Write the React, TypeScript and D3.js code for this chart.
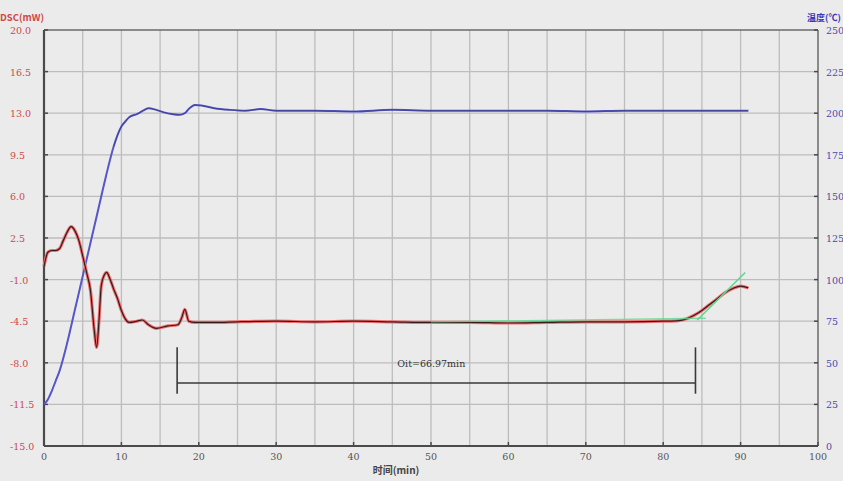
import React, { useEffect, useRef } from 'react';
import * as d3 from 'd3';

// left axis (DSC, mW) and right axis (temperature) ticks
const dscTicks = [-15.0, -11.5, -8.0, -4.5, -1.0, 2.5, 6.0, 9.5, 13.0, 16.5, 20.0];
const tempTicks = [0, 25, 50, 75, 100, 125, 150, 175, 200, 225, 250];
const timeTicks = [0, 10, 20, 30, 40, 50, 60, 70, 80, 90, 100];

// temperature curve (min, degC)
const tempTime = [0, 0.5, 1, 1.5, 2, 3, 4, 5, 6, 7, 8, 9, 10, 10.5, 11, 12, 13, 13.5, 14.5, 15.5, 16.5, 17.5, 18.2, 18.8, 19.5, 20.5, 22, 24, 26, 28, 30, 35, 40, 45, 50, 55, 60, 65, 70, 75, 80, 85, 91];
const tempValue = [25, 28, 33, 39, 45, 62, 82, 102, 122, 142, 162, 180, 192, 195, 197.5, 199.5, 202, 203, 202, 200.5, 199.5, 199, 200, 203, 205, 204.5, 203, 202, 201.5, 202.5, 201.5, 201.5, 201, 202, 201.5, 201.5, 201.5, 201.5, 201, 201.5, 201.5, 201.5, 201.5];

// DSC curve (min, mW)
const dscTime = [0, 0.5, 1, 1.5, 2, 2.5, 3, 3.5, 4, 4.5, 5, 5.5, 6, 6.5, 6.8, 7.1, 7.4, 7.8, 8.1, 8.5, 9, 9.5, 10, 10.5, 11, 12, 12.7, 13.5, 14.5, 16, 17.3, 17.8, 18.2, 18.7, 19.5, 22, 25, 30, 35, 40, 45, 50, 55, 60, 65, 70, 75, 80, 82, 83, 84, 85, 86, 87, 88, 89, 90, 91];
const dscValue = [0.1, 1.3, 1.45, 1.45, 1.6, 2.3, 3.0, 3.45, 3.1, 2.3, 1.0, -0.4, -1.9, -5.3, -6.7, -4.5, -1.5, -0.6, -0.4, -0.9, -1.8, -2.6, -3.6, -4.3, -4.6, -4.5, -4.4, -4.8, -5.1, -4.9, -4.8, -4.2, -3.5, -4.5, -4.6, -4.6, -4.55, -4.5, -4.55, -4.5, -4.55, -4.6, -4.6, -4.65, -4.6, -4.55, -4.55, -4.5, -4.45, -4.3, -4.0, -3.6, -3.1, -2.6, -2.1, -1.75, -1.55, -1.7];

// tangent lines (min, mW)
const baseTime = [50, 85.5];
const baseValue = [-4.55, -4.25];
const slopeTime = [84.4, 90.6];
const slopeValue = [-4.4, -0.4];

// oxidation induction time marker
const oitStart = 17.2;
const oitEnd = 84.17;
const oitLevel = -9.7;
const oitTop = -6.7;
const oitBottom = -10.6;
const oitLabel = 'Oit=66.97min';

export default function App() {
  const ref = useRef<SVGSVGElement>(null);

  useEffect(() => {
    const W = 843, H = 481;
    const L = 44, R = 818, T = 30, B = 446;
    const svg = d3.select(ref.current);
    svg.selectAll('*').remove();

    svg.append('rect').attr('width', W).attr('height', H).attr('fill', '#ebebeb');

    const x = d3.scaleLinear().domain([0, 100]).range([L, R]);
    const y = d3.scaleLinear().domain([-15, 20]).range([B, T]);
    const y2 = d3.scaleLinear().domain([0, 250]).range([B, T]);

    // grid
    const g = svg.append('g');
    g.selectAll('line.v')
      .data(d3.range(5, 100, 5))
      .enter()
      .append('line')
      .attr('x1', d => x(d)).attr('x2', d => x(d))
      .attr('y1', T).attr('y2', B)
      .attr('stroke', '#bdbdbd').attr('stroke-width', 1.3);
    g.selectAll('line.h')
      .data(dscTicks.slice(1, -1))
      .enter()
      .append('line')
      .attr('x1', L).attr('x2', R)
      .attr('y1', d => y(d)).attr('y2', d => y(d))
      .attr('stroke', '#bdbdbd').attr('stroke-width', 1.3);

    // frame
    svg.append('line').attr('x1', L).attr('x2', R).attr('y1', T).attr('y2', T).attr('stroke', '#6a6a6a').attr('stroke-width', 1.5);
    svg.append('line').attr('x1', R).attr('x2', R).attr('y1', T).attr('y2', B).attr('stroke', '#6a6a6a').attr('stroke-width', 1.5);
    svg.append('line').attr('x1', L).attr('x2', L).attr('y1', T).attr('y2', B).attr('stroke', '#4a4a4a').attr('stroke-width', 2.2);
    svg.append('line').attr('x1', L).attr('x2', R).attr('y1', B).attr('y2', B).attr('stroke', '#4a4a4a').attr('stroke-width', 2.2);

    // tick marks
    svg.append('g').selectAll('line')
      .data(dscTicks)
      .enter()
      .append('line')
      .attr('x1', L).attr('x2', L + 4)
      .attr('y1', d => y(d)).attr('y2', d => y(d))
      .attr('stroke', '#4a4a4a').attr('stroke-width', 1.5);
    svg.append('g').selectAll('line')
      .data(tempTicks)
      .enter()
      .append('line')
      .attr('x1', R - 4).attr('x2', R)
      .attr('y1', d => y2(d)).attr('y2', d => y2(d))
      .attr('stroke', '#4a4a4a').attr('stroke-width', 1.5);
    svg.append('g').selectAll('line')
      .data(timeTicks)
      .enter()
      .append('line')
      .attr('x1', d => x(d)).attr('x2', d => x(d))
      .attr('y1', B - 4).attr('y2', B)
      .attr('stroke', '#4a4a4a').attr('stroke-width', 1.5);

    const font = '"DejaVu Serif", "Liberation Serif", serif';

    // tick labels
    svg.append('g').selectAll('text')
      .data(dscTicks)
      .enter()
      .append('text')
      .attr('x', 10)
      .attr('y', d => y(d) + 4)
      .attr('font-family', font).attr('font-size', 9.5)
      .attr('fill', '#d04848')
      .text(d => d.toFixed(1));
    svg.append('g').selectAll('text')
      .data(tempTicks)
      .enter()
      .append('text')
      .attr('x', 826)
      .attr('y', d => y2(d) + 4)
      .attr('font-family', font).attr('font-size', 9.5)
      .attr('fill', '#4a4ab0')
      .text(d => String(d));
    svg.append('g').selectAll('text')
      .data(timeTicks)
      .enter()
      .append('text')
      .attr('x', d => x(d))
      .attr('y', 460)
      .attr('text-anchor', 'middle')
      .attr('font-family', font).attr('font-size', 9.5)
      .attr('fill', '#555')
      .text(d => String(d));

    // axis titles
    svg.append('text').attr('x', 0).attr('y', 21)
      .attr('font-family', '"Noto Sans CJK SC", sans-serif').attr('font-size', 9.5)
      .attr('font-weight', 'bold').attr('fill', '#d04848').text('DSC(mW)');
    svg.append('text').attr('x', 807).attr('y', 21)
      .attr('font-family', '"Noto Sans CJK SC", sans-serif').attr('font-size', 9)
      .attr('font-weight', 'bold').attr('fill', '#3a3ab8').text('温度(℃)');
    svg.append('text').attr('x', 396).attr('y', 474)
      .attr('text-anchor', 'middle')
      .attr('font-family', '"Noto Sans CJK SC", sans-serif').attr('font-size', 10)
      .attr('font-weight', 'bold').attr('fill', '#444').text('时间(min)');

    // temperature curve
    const tempData = tempTime.map((t, i) => [t, tempValue[i]] as [number, number]);
    const tempLine = d3.line<[number, number]>().x(d => x(d[0])).y(d => y2(d[1])).curve(d3.curveMonotoneX);
    svg.append('path').attr('d', tempLine(tempData)).attr('fill', 'none')
      .attr('stroke', '#5656c8').attr('stroke-width', 2);
    svg.append('path').attr('d', tempLine(tempData.filter(d => d[0] >= 9))).attr('fill', 'none')
      .attr('stroke', '#2a2a60').attr('stroke-width', 0.8).attr('opacity', 0.6);

    // DSC curve
    const dscData = dscTime.map((t, i) => [t, dscValue[i]] as [number, number]);
    const dscLine = d3.line<[number, number]>().x(d => x(d[0])).y(d => y(d[1])).curve(d3.curveMonotoneX);
    svg.append('path').attr('d', dscLine(dscData)).attr('fill', 'none')
      .attr('stroke', '#f07070').attr('stroke-width', 3.2);
    svg.append('path').attr('d', dscLine(dscData)).attr('fill', 'none')
      .attr('stroke', '#3a1a1a').attr('stroke-width', 1.2);

    // tangent lines
    const tanLine = d3.line<[number, number]>().x(d => x(d[0])).y(d => y(d[1]));
    svg.append('path').attr('d', tanLine(baseTime.map((t, i) => [t, baseValue[i]]))).attr('fill', 'none')
      .attr('stroke', '#5ed890').attr('stroke-width', 1.3).attr('opacity', 0.8);
    svg.append('path').attr('d', tanLine(slopeTime.map((t, i) => [t, slopeValue[i]]))).attr('fill', 'none')
      .attr('stroke', '#5ed890').attr('stroke-width', 1.6);

    // OIT marker
    const oit = svg.append('g').attr('stroke', '#3a3a3a').attr('stroke-width', 1.6);
    oit.append('line').attr('x1', x(oitStart)).attr('x2', x(oitEnd)).attr('y1', y(oitLevel)).attr('y2', y(oitLevel));
    oit.append('line').attr('x1', x(oitStart)).attr('x2', x(oitStart)).attr('y1', y(oitTop)).attr('y2', y(oitBottom));
    oit.append('line').attr('x1', x(oitEnd)).attr('x2', x(oitEnd)).attr('y1', y(oitTop)).attr('y2', y(oitBottom));
    svg.append('text').attr('x', x((oitStart + oitEnd) / 2) - 5).attr('y', y(oitLevel) - 16)
      .attr('text-anchor', 'middle')
      .attr('font-family', font).attr('font-size', 9.5).attr('fill', '#333')
      .text(oitLabel);
  }, []);

  return (
    <svg ref={ref} width={843} height={481} style={{ position: 'absolute', left: 0, top: 0 }} />
  );
}
